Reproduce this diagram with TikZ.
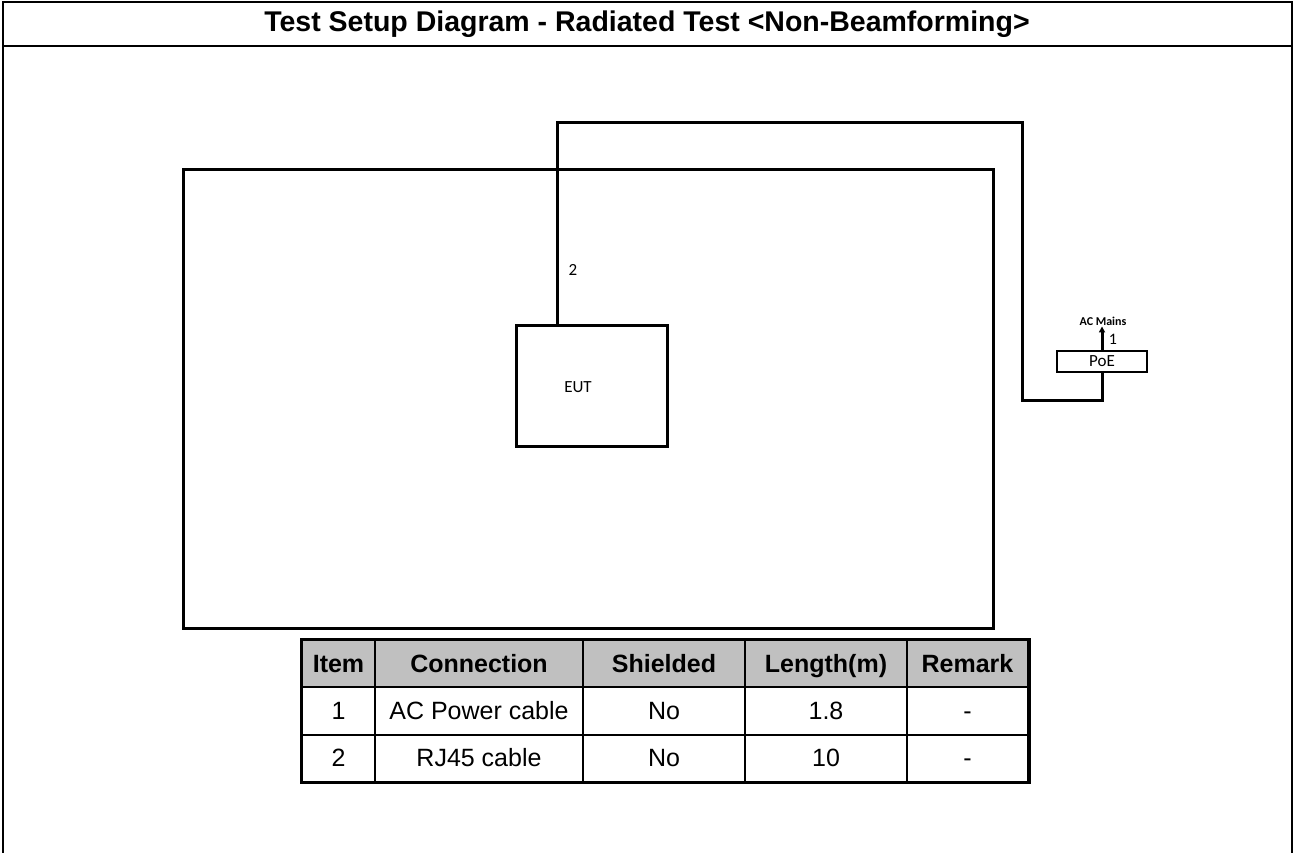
\documentclass[tikz,border=0pt]{standalone}
\usepackage{fontspec}
\setmainfont{Liberation Sans}
\newfontfamily\calfont{Carlito}
\usetikzlibrary{arrows.meta}
\definecolor{hdrgray}{HTML}{C0C0C0}
\newcommand{\tabfont}{\fontsize{25}{29}\selectfont}

\begin{document}
\begin{tikzpicture}[x=1pt,y=-1pt,>=Stealth,
 frame/.style={line width=2.5pt},
 wall/.style={draw,line width=3pt,inner sep=0pt},
 cable/.style={line width=3pt},
 small/.style={font=\calfont\fontsize{17}{20}\selectfont,inner sep=1pt},
 cell/.style={draw,line width=2pt,minimum height=47.3pt,inner sep=0pt,text height=18pt,text depth=1pt,font=\tabfont},
 head/.style={cell,fill=hdrgray,font=\bfseries\tabfont}]
\useasboundingbox (0,0) rectangle (1295,853);
% page frame and title
\draw[frame] (3,853)--(3,2)--(1292,2)--(1292,853);
\draw[frame] (3,46)--(1292,46);
\node[font=\bfseries\fontsize{28.5}{32}\selectfont] (title) at (647,24) {Test Setup Diagram - Radiated Test <Non-Beamforming>};
% chamber, EUT and PoE
\node[wall,minimum width=810pt,minimum height=458pt] (room) at (588,399) {};
\node[wall,minimum width=151pt,minimum height=121pt] (eut) at (591.5,385.5) {};
\node[small] (euttext) at (578,387) {EUT};
\node[wall,line width=2pt,minimum width=90pt,minimum height=21pt,small] (poe) at (1102,361.5) {PoE};
\node[font=\calfont\bfseries\fontsize{12}{14}\selectfont,inner sep=1pt] (acmains) at (1103,321) {AC Mains};
\coordinate (eutport) at (557,325);
\coordinate (over) at (1022,123);
\coordinate (down) at (1022,400);
\draw[cable] (eutport)|-(over)--(down)-|(poe.south);
\draw[cable,-{Triangle[length=6pt,width=6pt]}] (poe.north)--(poe.north |- acmains.south);
\node[small] (lbltwo) at (573,270) {2};
\node[small,font=\calfont\fontsize{16}{18}\selectfont] (lblone) at (1113,339) {1};
% cable table
\node[head,minimum width=73pt] (h1) at (338.5,663.7) {Item};
\node[head,minimum width=208pt] (h2) at (479,663.7) {Connection};
\node[head,minimum width=162pt] (h3) at (664,663.7) {Shielded};
\node[head,minimum width=162pt] (h4) at (826,663.7) {Length(m)};
\node[head,minimum width=121pt] (h5) at (967.5,663.7) {Remark};
\node[cell,minimum width=73pt] (a1) at (338.5,711) {1};
\node[cell,minimum width=208pt] (a2) at (479,711) {AC Power cable};
\node[cell,minimum width=162pt] (a3) at (664,711) {No};
\node[cell,minimum width=162pt] (a4) at (826,711) {1.8};
\node[cell,minimum width=121pt] (a5) at (967.5,711) {-};
\node[cell,minimum width=73pt] (b1) at (338.5,758.3) {2};
\node[cell,minimum width=208pt] (b2) at (479,758.3) {RJ45 cable};
\node[cell,minimum width=162pt] (b3) at (664,758.3) {No};
\node[cell,minimum width=162pt] (b4) at (826,758.3) {10};
\node[cell,minimum width=121pt] (b5) at (967.5,758.3) {-};
\draw[line width=3pt] (h1.north west) rectangle (b5.south east);
\end{tikzpicture}
\end{document}
